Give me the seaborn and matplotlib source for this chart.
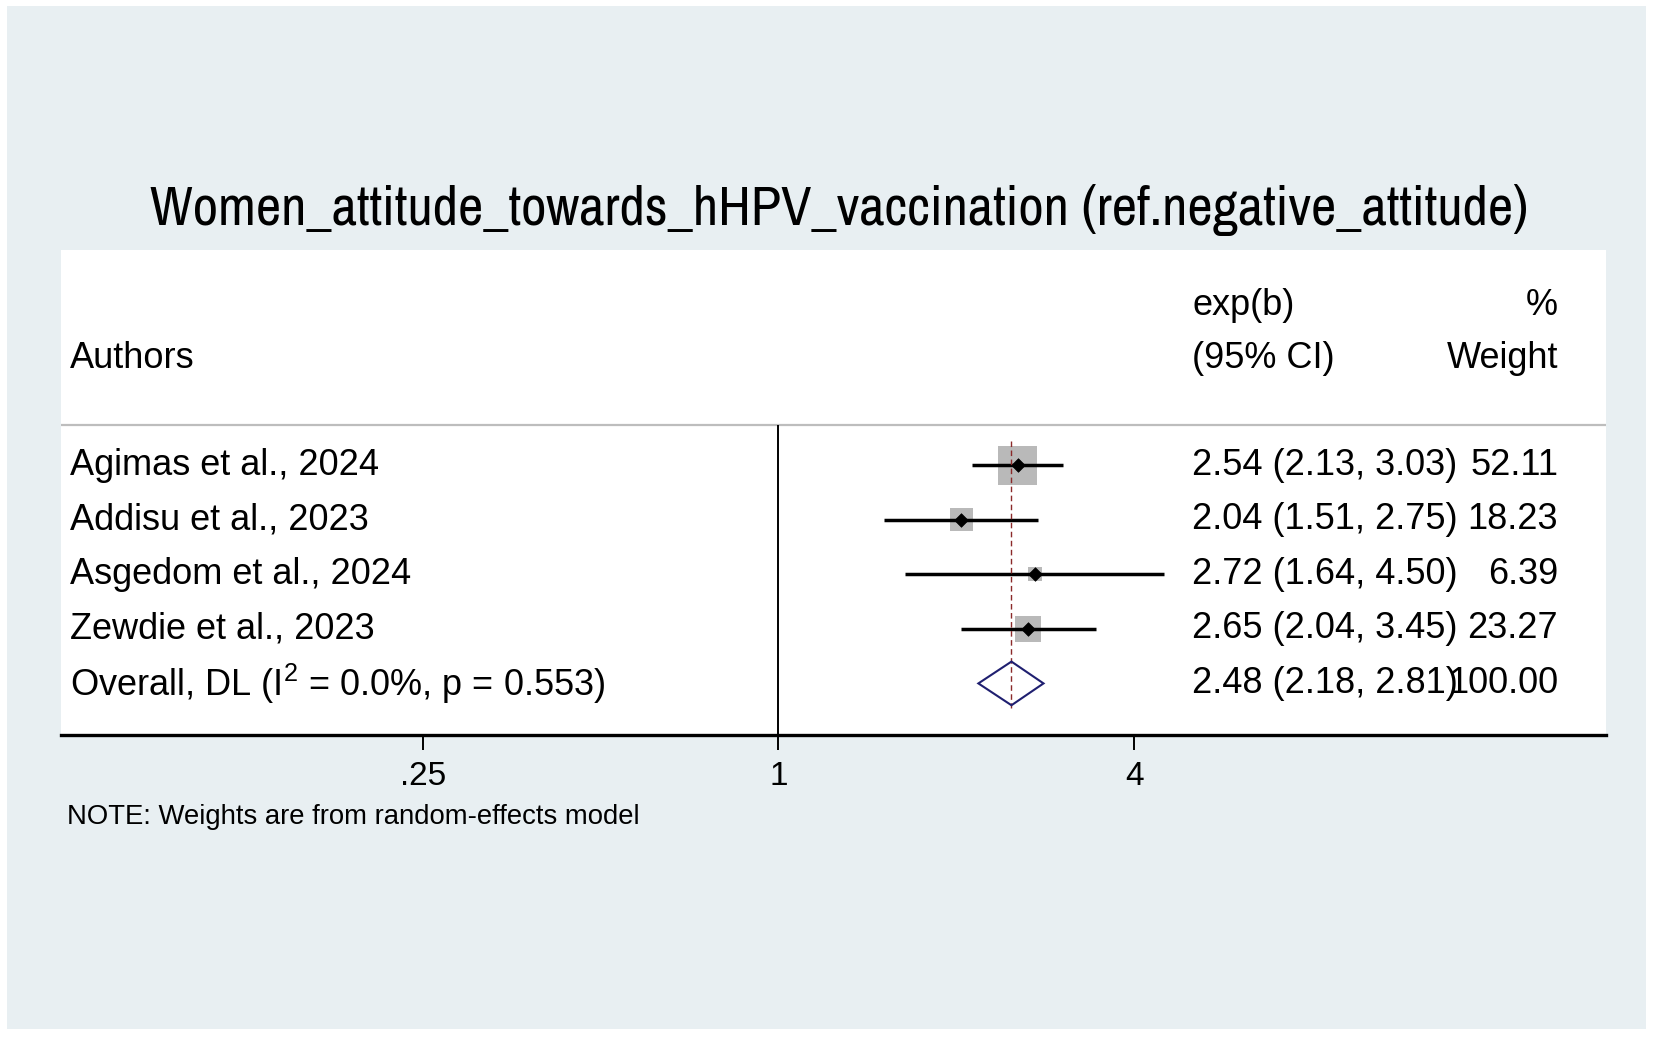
import numpy as np
import pandas as pd
import matplotlib
matplotlib.use("Agg")
import matplotlib.pyplot as plt
import seaborn as sns
from matplotlib.patches import Rectangle, Polygon
from matplotlib import font_manager as fm

# ---------------- data ----------------
authors = ["Agimas et al., 2024", "Addisu et al., 2023", "Asgedom et al., 2024", "Zewdie et al., 2023"]
es = [2.54, 2.04, 2.72, 2.65]
lo = [2.13, 1.51, 1.64, 2.04]
hi = [3.03, 2.75, 4.50, 3.45]
weights = [52.11, 18.23, 6.39, 23.27]
overall_label = r"Overall, DL (I$^{\mathregular{2}}$ = 0.0%, p = 0.553)"
overall_es, overall_lo, overall_hi, overall_w = 2.48, 2.18, 2.81, 100.00
tick_values = [0.25, 1, 4]
tick_labels = [".25", "1", "4"]
title = "Women_attitude_towards_hHPV_vaccination (ref.negative_attitude)"
note = "NOTE: Weights are from random-effects model"

# ---------------- style ----------------
sns.set_theme(style="white")
plt.rcParams["font.family"] = ["Liberation Sans", "DejaVu Sans"]
plt.rcParams["mathtext.fontset"] = "custom"
plt.rcParams["mathtext.rm"] = "Liberation Sans"
plt.rcParams["mathtext.it"] = "Liberation Sans"
plt.rcParams["text.color"] = "black"
plt.rcParams["xtick.color"] = "black"
plt.rcParams["xtick.labelcolor"] = "black"

# look for a condensed/narrow sans font for the title
title_fp = None
cands = []
for f in fm.fontManager.ttflist:
    nm = f.name.lower()
    fn = f.fname.lower()
    if ("bold" in fn) or ("italic" in fn) or ("oblique" in fn) or ("mono" in fn) or ("serif" in nm and "sans" not in nm):
        continue
    if "narrow" in nm or "condensed" in nm or "narrow" in fn or "condensed" in fn or f.stretch in ("condensed", "semi-condensed", "extra-condensed"):
        if f.weight in (400, "normal", "regular", "book"):
            cands.append(f)
if cands:
    pref = sorted(cands, key=lambda f: (0 if "narrow" in f.fname.lower() else 1, f.fname))
    title_fp = fm.FontProperties(fname=pref[0].fname)
else:
    title_fp = fm.FontProperties(family="Liberation Sans")

W, H, DPI = 1654, 1037, 100
fig = plt.figure(figsize=(W / DPI, H / DPI), dpi=DPI, facecolor="white")

# outer light-bluish background (Stata graph region)
fig.patches.append(Rectangle((7 / W, 8 / H), (1646 - 7) / W, (1031 - 8) / H,
                             transform=fig.transFigure, facecolor="#e8eff2",
                             edgecolor="none", zorder=0))

ax = fig.add_axes([61 / W, (H - 735) / H, (1606 - 61) / W, (735 - 250) / H])
ax.set_facecolor("white")
ax.set_zorder(1)

# log2 scale
ax.set_xscale("log", base=2)
ax.set_xlim(2 ** -4.035, 2 ** 4.654)
ax.set_ylim(4.945, -3.94)

rows = np.arange(len(authors))
df = pd.DataFrame({"author": authors, "es": es, "lo": lo, "hi": hi,
                   "w": weights, "row": rows})

# header separator and null line
ax.axhline(-0.733, color="#bdbdbd", lw=1.6, zorder=1)
ax.vlines(1, -0.733, 4.945, color="black", lw=1.4, zorder=1)

# weight boxes (area proportional to weight)
max_side = 28.0  # points
wmax = max(weights)
sns.scatterplot(data=df, x="es", y="row", size="w",
                sizes=(min(weights) / wmax * max_side ** 2, max_side ** 2),
                size_norm=(min(weights), wmax),
                marker="s", color="#b9b9b9", edgecolor="none",
                legend=False, ax=ax, zorder=2)

# CIs
ax.hlines(df["row"], df["lo"], df["hi"], color="black", lw=2.5, zorder=3)

# point estimates
sns.scatterplot(data=df, x="es", y="row", marker="D", color="black",
                s=48, edgecolor="black", linewidth=0.5, legend=False, ax=ax, zorder=4)

# overall line (dashed)
orow = len(authors)
ax.vlines(overall_es, -0.45, orow + 0.45, color="#8b2a2a", lw=1.0,
          linestyles=(0, (4, 2.5)), zorder=5)

# overall diamond
hh = 0.40
diamond = Polygon([[overall_lo, orow], [overall_es, orow - hh],
                   [overall_hi, orow], [overall_es, orow + hh]],
                  closed=True, facecolor="none", edgecolor="#1f1f70", lw=1.5, zorder=6)
ax.add_patch(diamond)

# ---------------- text columns ----------------
fs = 26
xt = ax.get_yaxis_transform()  # x in axes fraction, y in data
x_auth = (70 - 61) / 1545
x_ci = (1192 - 61) / 1545
x_w = (1558 - 61) / 1545

ax.text(x_auth, -1.96, "Authors", transform=xt, ha="left", va="center", fontsize=fs)
ax.text(x_ci, -2.93, "exp(b)", transform=xt, ha="left", va="center", fontsize=fs)
ax.text(x_ci, -1.96, "(95% CI)", transform=xt, ha="left", va="center", fontsize=fs)
ax.text(x_w, -2.93, "%", transform=xt, ha="right", va="center", fontsize=fs)
ax.text(x_w, -1.96, "Weight", transform=xt, ha="right", va="center", fontsize=fs)

for r, a, e, l, h, w in zip(rows, authors, es, lo, hi, weights):
    ax.text(x_auth, r, a, transform=xt, ha="left", va="center", fontsize=fs)
    ax.text(x_ci, r, f"{e:.2f} ({l:.2f}, {h:.2f})", transform=xt,
            ha="left", va="center", fontsize=fs)
    ax.text(x_w, r, f"{w:.2f}", transform=xt, ha="right", va="center", fontsize=fs)

ax.text(x_auth, orow, overall_label, transform=xt, ha="left", va="center", fontsize=fs)
ax.text(x_ci, orow, f"{overall_es:.2f} ({overall_lo:.2f}, {overall_hi:.2f})",
        transform=xt, ha="left", va="center", fontsize=fs)
ax.text(x_w, orow, f"{overall_w:.2f}", transform=xt, ha="right", va="center", fontsize=fs)

# ---------------- axes styling ----------------
for s in ["top", "right", "left"]:
    ax.spines[s].set_visible(False)
ax.spines["bottom"].set_color("black")
ax.spines["bottom"].set_linewidth(2.4)
ax.set_yticks([])
ax.set_xticks(tick_values)
ax.set_xticklabels(tick_labels)
ax.xaxis.set_minor_locator(matplotlib.ticker.NullLocator())
ax.tick_params(axis="x", direction="out", length=11, width=1.4, color="black",
               labelsize=24, pad=8, bottom=True, labelcolor="black")
ax.set_xlabel("")
ax.set_ylabel("")

# ---------------- title & note ----------------
ttl = fig.text(839 / W, 1 - 210 / H, title, ha="center", va="center",
               fontproperties=title_fp, fontsize=40, color="black", zorder=3)
fig.text(67 / W, 1 - 817 / H, note, ha="left", va="center", fontsize=19.8, zorder=3)

# fit title width to the reference span (~1377 px)
fig.canvas.draw()
r = fig.canvas.get_renderer()
wpx = ttl.get_window_extent(renderer=r).width
ttl.set_fontsize(40 * 1377.0 / wpx)

fig.savefig("out.png", dpi=DPI, facecolor="white")
